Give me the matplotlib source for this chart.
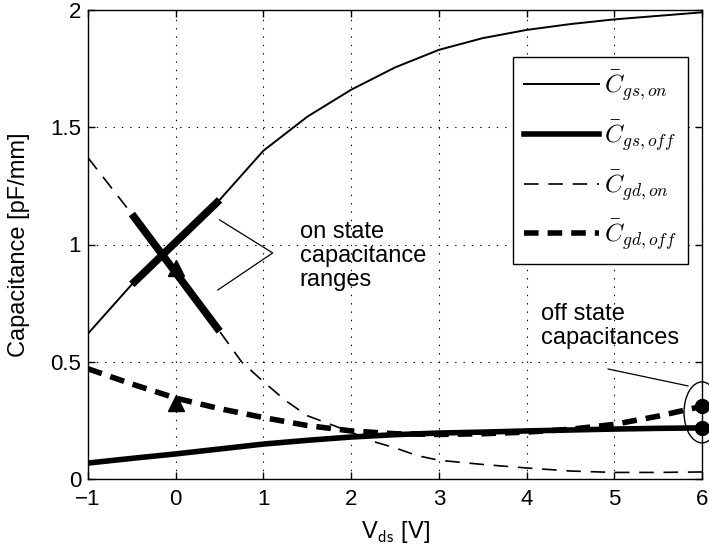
import matplotlib
matplotlib.use('Agg')
import matplotlib.pyplot as plt
from matplotlib.patches import Ellipse
import numpy as np

plt.rcParams['font.family'] = 'Liberation Sans'
plt.rcParams['mathtext.fontset'] = 'cm'
plt.rcParams['lines.scale_dashes'] = False

# Gate-source / gate-drain capacitance vs drain-source voltage
vds = [-1, -0.5, 0, 0.5, 1, 1.5, 2, 2.5, 3, 3.5, 4, 4.5, 5, 5.5, 6]
cgs_on = [0.62, 0.83, 1.01, 1.19, 1.40, 1.545, 1.66, 1.755, 1.83, 1.88, 1.915, 1.94, 1.96, 1.975, 1.99]
cgs_off = [0.068, 0.088, 0.107, 0.128, 0.149, 0.165, 0.179, 0.189, 0.196, 0.200, 0.205, 0.209, 0.213, 0.216, 0.218]
cgd_off = [0.47, 0.405, 0.345, 0.30, 0.262, 0.228, 0.205, 0.193, 0.19, 0.193, 0.20, 0.212, 0.233, 0.268, 0.31]

vds_gd = [-1, -0.5, 0, 0.5, 0.75, 1, 1.25, 1.5, 1.75, 2, 2.25, 2.5, 2.75, 3, 3.5, 4, 4.5, 5, 5.5, 6]
cgd_on = [1.37, 1.13, 0.88, 0.63, 0.50, 0.415, 0.335, 0.27, 0.235, 0.20, 0.16, 0.133, 0.10, 0.08, 0.062, 0.047, 0.034, 0.028, 0.028, 0.03]

# bias range used for the on state
range_lo, range_hi = -0.5, 0.5

# measured points at Vds = 0
tri_vds = [0, 0]
tri_c = [0.90, 0.325]

xticks = [-1, 0, 1, 2, 3, 4, 5, 6]
yticks = [0, 0.5, 1, 1.5, 2]
ytick_labels = ['0', '0.5', '1', '1.5', '2']

fig = plt.figure(figsize=(7.09, 5.56), dpi=100)
ax = fig.add_axes([88/709, 77/556, 614/709, 469/556])

dash = (0, (10.5, 7))
ax.plot(vds, cgs_on, color='black', lw=1.4, label=r'$\bar{C}_{gs,on}$')
ax.plot(vds, cgs_off, color='black', lw=4, label=r'$\bar{C}_{gs,off}$')
ax.plot(vds_gd, cgd_on, color='black', lw=1.2, linestyle=dash, label=r'$\bar{C}_{gd,on}$')
ax.plot(vds, cgd_off, color='black', lw=4, linestyle=(0, (10.5, 6.5)), label=r'$\bar{C}_{gd,off}$')

# thick segments marking the on-state ranges
v = np.array(vds)
m = (v >= range_lo) & (v <= range_hi)
ax.plot(v[m], np.array(cgs_on)[m], color='black', lw=5.5, solid_capstyle='butt')
vg = np.array(vds_gd)
mg = (vg >= range_lo) & (vg <= range_hi)
ax.plot(vg[mg], np.array(cgd_on)[mg], color='black', lw=5.5, solid_capstyle='butt')

ax.plot(tri_vds, tri_c, '^', color='black', ms=12, linestyle='none')
ax.plot([vds[-1], vds[-1]], [cgd_off[-1], cgs_off[-1]], 'o', color='black',
        ms=10, linestyle='none', clip_on=False)
ax.add_patch(Ellipse((6, 0.284), 0.41, 0.26, fill=False, edgecolor='black',
                     lw=1.0, clip_on=False))

# annotations
ax.text(1.414, 0.951, 'on state\ncapacitance\nranges', fontsize=17,
        va='center', ha='left', linespacing=1.1)
ax.plot([0.50, 1.106, 0.48], [1.105, 0.964, 0.806], color='black', lw=0.9)
ax.text(4.17, 0.652, 'off state\ncapacitances', fontsize=17,
        va='center', ha='left', linespacing=1.1)
ax.plot([4.93, 5.84], [0.469, 0.397], color='black', lw=0.9, clip_on=False)

ax.set_xlim(-1, 6)
ax.set_ylim(0, 2)
ax.set_xticks(xticks)
ax.set_yticks(yticks)
ax.set_yticklabels(ytick_labels)
ax.tick_params(direction='in', top=True, right=True, length=5, width=1,
               labelsize=16)
ax.tick_params(axis='x', pad=7)
ax.tick_params(axis='y', pad=5)
ax.grid(True, color='black', linestyle=(0, (1, 5)), linewidth=0.8)
for s in ax.spines.values():
    s.set_linewidth(1.0)

ax.set_xlabel(r'V$_{\mathsf{ds}}$ [V]', fontsize=17)
ax.set_ylabel('Capacitance [pF/mm]', fontsize=17)
ax.xaxis.set_label_coords(0.5, -0.085)
ax.yaxis.set_label_coords(-0.095, 0.5)

leg = ax.legend(loc='upper right', bbox_to_anchor=(688/709, 1 - 57/556),
                bbox_transform=fig.transFigure, borderaxespad=0,
                fontsize=18, handlelength=3.0, handletextpad=0.2,
                labelspacing=0.6, borderpad=0.45, fancybox=False,
                framealpha=1, edgecolor='black')
leg.get_frame().set_linewidth(1.0)

fig.savefig('out.png', dpi=100)
